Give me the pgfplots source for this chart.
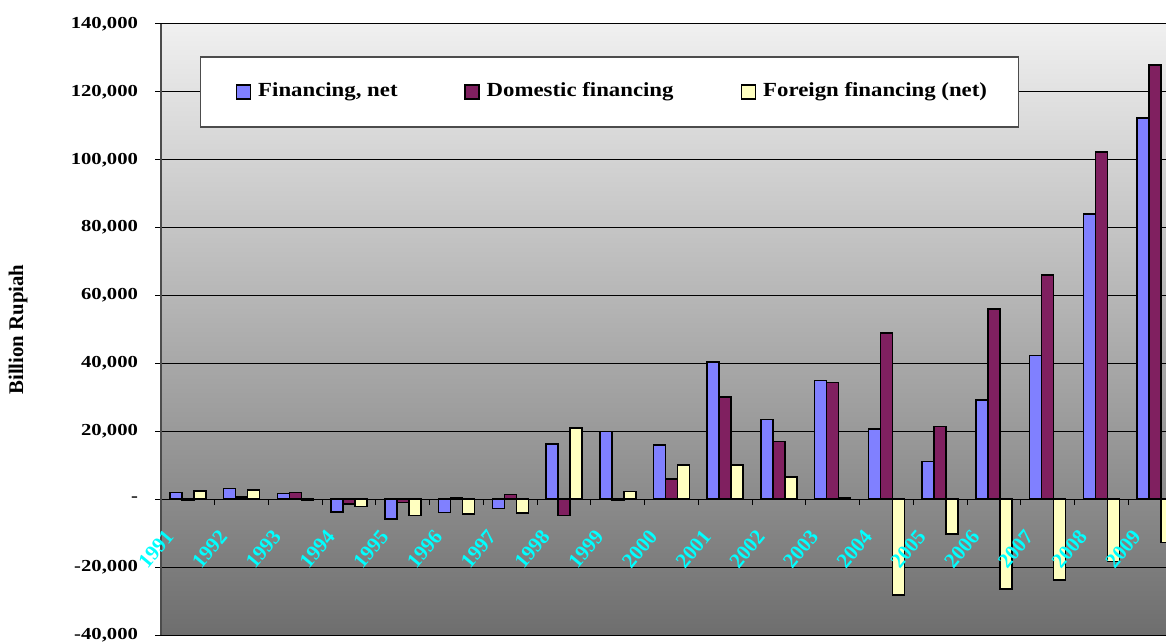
\documentclass[border=0pt]{standalone}
\usepackage{fontspec}
\setmainfont{Liberation Serif}[FakeStretch=1.14]
\newfontfamily\tickfont{Liberation Serif}[FakeStretch=1.23]
\newfontfamily\plainserif{Liberation Serif}
\usepackage{pgfplots}
\usepackage{pgfplotstable}
\pgfplotsset{compat=1.18}

\definecolor{netblue}{RGB}{128,128,255}
\definecolor{domplum}{RGB}{128,32,96}
\definecolor{forcream}{RGB}{255,255,192}
\definecolor{bgtop}{RGB}{240,240,240}
\definecolor{bgbottom}{RGB}{110,110,110}
\definecolor{yearcyan}{RGB}{0,255,255}

% Government financing, billion Rupiah (1991 = 0, ..., 2009 = 18)
\pgfplotstableread{
idx   net     dom     for
0     2050    -400    2400
1     3100     600    2650
2     1750    1950    -200
3    -3700   -1400   -2200
4    -5900   -1000   -4800
5    -3900     450   -4300
6    -2750    1350   -4000
7    16250   -4800   20950
8    20000    -400    2250
9    16000    5900   10100
10   40400   30100   10100
11   23500   17000    6600
12   35000   34400     500
13   20700   48900  -28200
14   11100   21400  -10200
15   29300   56000  -26500
16   42350   66100  -23800
17   84050  102350  -18400
18  112350  127900  -12750
}\financing

\pgfplotsset{
  sq legend/.style={legend image code/.code={%
    \draw[##1, line width=0.75pt] (0pt,-3.5pt) rectangle (7pt,3.5pt);}},
  % tick labels above the bars, grid below them
  /pgfplots/layers/labelsontop/.define layer set={
    axis background,axis grid,axis ticks,axis lines,pre main,main,
    axis tick labels,axis descriptions,axis foreground
  }{/pgfplots/layers/standard},
}

\begin{document}
\begin{tikzpicture}
\begin{axis}[
  set layers=labelsontop,
  at={(80.5pt,3.5pt)}, anchor=south west,
  scale only axis, width=510.5pt, height=305.5pt,
  xmin=-0.5, xmax=18.5, ymin=-40000, ymax=140000,
  ybar=0pt, bar width=6pt,
  sq legend,
  axis x line=middle, axis y line=left,
  hide obscured x ticks=false, hide obscured y ticks=false,
  x axis line style={-, black, line width=0.5pt},
  y axis line style={-, black!70, line width=0.75pt},
  axis background/.style={shade, top color=bgtop, bottom color=bgbottom},
  ymajorgrids, major grid style={black, line width=0.5pt},
  tick align=outside, major tick length=3pt, minor tick length=3pt,
  scaled y ticks=false,
  ytick={-40000,-20000,...,140000},
  yticklabels={{-40,000},{-20,000},{-},{20,000},{40,000},{60,000},{80,000},{100,000},{120,000},{140,000}},
  yticklabel style={font=\tickfont\bfseries\fontsize{8.4}{10}\selectfont, anchor=east, xshift=-5pt},
  ytick style={black, line width=0.5pt},
  xtick={0,...,18},
  xticklabels={1991,1992,1993,1994,1995,1996,1997,1998,1999,2000,2001,2002,2003,2004,2005,2006,2007,2008,2009},
  major x tick style={draw=none},
  minor xtick={0.5,1.5,...,17.5},
  minor x tick style={black, line width=0.5pt},
  xticklabel style={font=\plainserif\bfseries\fontsize{10.5}{12}\selectfont, text=yearcyan,
    anchor=center, xshift=-16pt, yshift=-22pt, rotate=50},
  ylabel={Billion Rupiah},
  ylabel style={at={(axis description cs:-0.140,0.5)}, anchor=center, rotate=0,
    font=\plainserif\bfseries\fontsize{10.4}{12}\selectfont},
  legend columns=3,
  legend style={at={(axis description cs:0.0382,0.9476)}, anchor=north west,
    fill=white, draw=black!70, line width=0.75pt,
    inner xsep=17.5pt, inner ysep=12.75pt,
    nodes={inner sep=0pt, text height=7pt, text depth=2.5pt},
    /tikz/every odd column/.append style={column sep=3.5pt},
    /tikz/every even column/.append style={column sep=0pt},
    font=\bfseries\fontsize{10}{12}\selectfont},
]
\addplot[fill=netblue, draw=black, line width=0.75pt] table[x=idx, y=net] {\financing};
\addlegendentry{\makebox[103pt][l]{Financing, net}}
\addplot[fill=domplum, draw=black, line width=0.75pt] table[x=idx, y=dom] {\financing};
\addlegendentry{\makebox[127pt][l]{Domestic financing}}
\addplot[fill=forcream, draw=black, line width=0.75pt] table[x=idx, y=for] {\financing};
\addlegendentry{\makebox[110pt][l]{Foreign financing (net)}}
\end{axis}
% the page shows the left part of the axis only
\pgfresetboundingbox
\path[use as bounding box] (0,0) rectangle (583pt,321pt);
\end{tikzpicture}
\end{document}
